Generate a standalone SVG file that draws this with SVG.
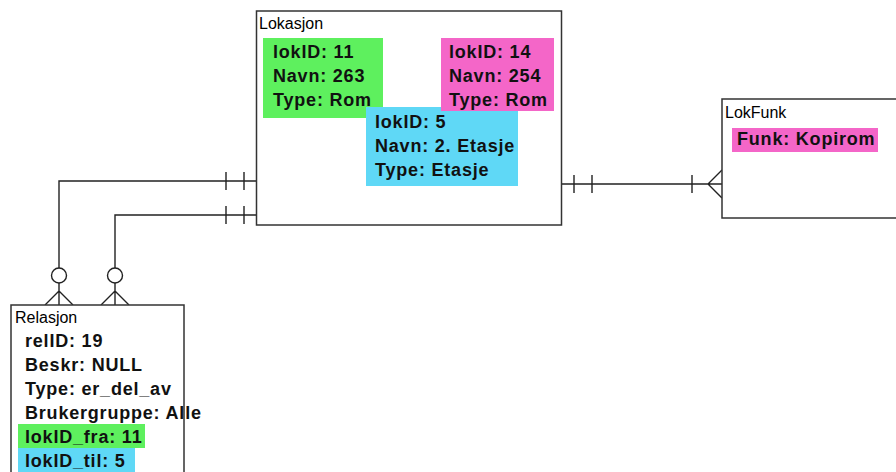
<svg xmlns="http://www.w3.org/2000/svg" width="896" height="472" viewBox="0 0 896 472">
<style>
.box{fill:#fff;stroke:#333;stroke-width:1.5}
.ttl{font-family:"Liberation Sans",Arial,sans-serif;font-size:16px;fill:#000}
.f{font-family:"Liberation Sans",Arial,sans-serif;font-size:18px;font-weight:bold;letter-spacing:0.8px;fill:#111}
.c{fill:none;stroke:#222;stroke-width:1.4}
.g{fill:#5ef05e}.p{fill:#f466c8}.b{fill:#5fd8f6}
</style>
<rect width="896" height="472" fill="#fff"/>
<g id="connectors" class="c">
<path d="M256 181H59V268M59 283V305M45 305L59 291L73 305"/>
<circle cx="59" cy="275.5" r="7.5"/>
<path d="M226 172V190M244 172V190"/>
<path d="M256 215H115V268M115 283V305M101 305L115 291L129 305"/>
<circle cx="115" cy="275.5" r="7.5"/>
<path d="M226 206V224M244 206V224"/>
<path d="M562 184H722M574 175V193M592 175V193M692 175V193M722 170L708 184L722 198"/>
</g>
<g id="Lokasjon">
<rect class="box" x="256.5" y="11" width="305" height="214"/>
<text class="ttl" x="259" y="29">Lokasjon</text>
<rect class="g" x="263" y="38" width="120" height="80"/>
<text class="f" x="273" y="58">lokID: 11</text>
<text class="f" x="273" y="82">Navn: 263</text>
<text class="f" x="273" y="106">Type: Rom</text>
<rect class="b" x="366" y="107" width="152" height="79"/>
<text class="f" x="375" y="128">lokID: 5</text>
<text class="f" x="375" y="152">Navn: 2. Etasje</text>
<text class="f" x="375" y="176">Type: Etasje</text>
<rect class="p" x="441" y="38" width="113" height="73"/>
<text class="f" x="449" y="58">lokID: 14</text>
<text class="f" x="449" y="82">Navn: 254</text>
<text class="f" x="449" y="106">Type: Rom</text>
</g>
<g id="LokFunk">
<rect class="box" x="722" y="99" width="180" height="119"/>
<text class="ttl" x="725" y="118">LokFunk</text>
<rect class="p" x="732" y="128" width="146" height="24"/>
<text class="f" x="737" y="145">Funk: Kopirom</text>
</g>
<g id="Relasjon">
<rect class="box" x="11" y="305" width="173" height="180"/>
<text class="ttl" x="15" y="323">Relasjon</text>
<text class="f" x="25" y="347">relID: 19</text>
<text class="f" x="25" y="371">Beskr: NULL</text>
<text class="f" x="25" y="395">Type: er_del_av</text>
<text class="f" x="25" y="419">Brukergruppe: Alle</text>
<rect class="g" x="18" y="424" width="127" height="24"/>
<text class="f" x="25" y="443">lokID_fra: 11</text>
<rect class="b" x="18" y="448" width="117" height="30"/>
<text class="f" x="25" y="467">lokID_til: 5</text>
</g>
</svg>
